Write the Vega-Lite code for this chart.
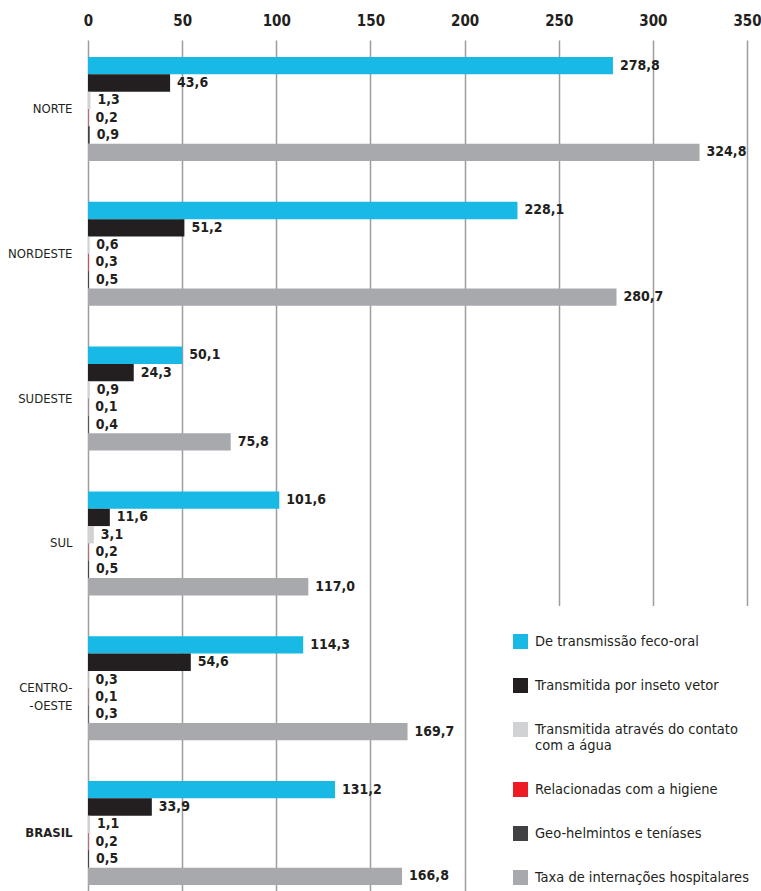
{
  "$schema": "https://vega.github.io/schema/vega-lite/v6.json",
  "width": 659,
  "height": 851,
  "autosize": {"type": "none"},
  "padding": {"left": 88, "top": 40, "right": 14, "bottom": 0},
  "background": "white",
  "config": {
    "locale": {"number": {"decimal": ",", "thousands": ".", "grouping": [3], "currency": ["R$", ""]}},
    "font": "DejaVu Sans Condensed, Roboto",
    "view": {"stroke": null}
  },
  "data": {
    "values": [
      {"regiao": "NORTE", "serie": "De transmissão feco-oral", "valor": 278.8},
      {"regiao": "NORTE", "serie": "Transmitida por inseto vetor", "valor": 43.6},
      {"regiao": "NORTE", "serie": "Transmitida através do contato com a água", "valor": 1.3},
      {"regiao": "NORTE", "serie": "Relacionadas com a higiene", "valor": 0.2},
      {"regiao": "NORTE", "serie": "Geo-helmintos e teníases", "valor": 0.9},
      {"regiao": "NORTE", "serie": "Taxa de internações hospitalares", "valor": 324.8},
      {"regiao": "NORDESTE", "serie": "De transmissão feco-oral", "valor": 228.1},
      {"regiao": "NORDESTE", "serie": "Transmitida por inseto vetor", "valor": 51.2},
      {"regiao": "NORDESTE", "serie": "Transmitida através do contato com a água", "valor": 0.6},
      {"regiao": "NORDESTE", "serie": "Relacionadas com a higiene", "valor": 0.3},
      {"regiao": "NORDESTE", "serie": "Geo-helmintos e teníases", "valor": 0.5},
      {"regiao": "NORDESTE", "serie": "Taxa de internações hospitalares", "valor": 280.7},
      {"regiao": "SUDESTE", "serie": "De transmissão feco-oral", "valor": 50.1},
      {"regiao": "SUDESTE", "serie": "Transmitida por inseto vetor", "valor": 24.3},
      {"regiao": "SUDESTE", "serie": "Transmitida através do contato com a água", "valor": 0.9},
      {"regiao": "SUDESTE", "serie": "Relacionadas com a higiene", "valor": 0.1},
      {"regiao": "SUDESTE", "serie": "Geo-helmintos e teníases", "valor": 0.4},
      {"regiao": "SUDESTE", "serie": "Taxa de internações hospitalares", "valor": 75.8},
      {"regiao": "SUL", "serie": "De transmissão feco-oral", "valor": 101.6},
      {"regiao": "SUL", "serie": "Transmitida por inseto vetor", "valor": 11.6},
      {"regiao": "SUL", "serie": "Transmitida através do contato com a água", "valor": 3.1},
      {"regiao": "SUL", "serie": "Relacionadas com a higiene", "valor": 0.2},
      {"regiao": "SUL", "serie": "Geo-helmintos e teníases", "valor": 0.5},
      {"regiao": "SUL", "serie": "Taxa de internações hospitalares", "valor": 117.0},
      {"regiao": "CENTRO-OESTE", "serie": "De transmissão feco-oral", "valor": 114.3},
      {"regiao": "CENTRO-OESTE", "serie": "Transmitida por inseto vetor", "valor": 54.6},
      {"regiao": "CENTRO-OESTE", "serie": "Transmitida através do contato com a água", "valor": 0.3},
      {"regiao": "CENTRO-OESTE", "serie": "Relacionadas com a higiene", "valor": 0.1},
      {"regiao": "CENTRO-OESTE", "serie": "Geo-helmintos e teníases", "valor": 0.3},
      {"regiao": "CENTRO-OESTE", "serie": "Taxa de internações hospitalares", "valor": 169.7},
      {"regiao": "BRASIL", "serie": "De transmissão feco-oral", "valor": 131.2},
      {"regiao": "BRASIL", "serie": "Transmitida por inseto vetor", "valor": 33.9},
      {"regiao": "BRASIL", "serie": "Transmitida através do contato com a água", "valor": 1.1},
      {"regiao": "BRASIL", "serie": "Relacionadas com a higiene", "valor": 0.2},
      {"regiao": "BRASIL", "serie": "Geo-helmintos e teníases", "valor": 0.5},
      {"regiao": "BRASIL", "serie": "Taxa de internações hospitalares", "valor": 166.8}
    ]
  },
  "encoding": {
    "y": {
      "field": "regiao",
      "type": "nominal",
      "sort": ["NORTE", "NORDESTE", "SUDESTE", "SUL", "CENTRO-OESTE", "BRASIL"],
      "scale": {"paddingInner": 0.2818, "paddingOuter": 0.0794, "align": 0.74},
      "axis": {
        "title": null,
        "domain": false,
        "ticks": false,
        "labelPadding": 16,
        "labelFontSize": 13,
        "labelColor": "#231f20",
        "labelExpr": "datum.value == 'CENTRO-OESTE' ? ['CENTRO-', '-OESTE'] : datum.value",
        "labelFontWeight": {"condition": {"test": "datum.value == 'BRASIL'", "value": "bold"}, "value": "normal"},
        "labelLineHeight": 18
      }
    },
    "yOffset": {
      "field": "serie",
      "type": "nominal",
      "sort": ["De transmissão feco-oral", "Transmitida por inseto vetor", "Transmitida através do contato com a água", "Relacionadas com a higiene", "Geo-helmintos e teníases", "Taxa de internações hospitalares"],
      "scale": {"paddingInner": 0, "paddingOuter": 0}
    },
    "x": {
      "field": "valor",
      "type": "quantitative",
      "scale": {"domain": [0, 350], "nice": false},
      "axis": {
        "orient": "top",
        "title": null,
        "values": [0, 50, 100, 150, 200, 250, 300, 350],
        "domain": false,
        "ticks": false,
        "grid": true,
        "gridColor": "#9d9d9d",
        "gridWidth": 1.5,
        "labelPadding": 12,
        "labelFontSize": 15,
        "labelFontWeight": "bold",
        "labelColor": "#231f20",
        "labelFlush": false,
        "format": "d"
      }
    }
  },
  "layer": [
    {
      "mark": {"type": "bar"},
      "encoding": {
        "color": {
          "field": "serie",
          "type": "nominal",
          "scale": {
            "domain": ["De transmissão feco-oral", "Transmitida por inseto vetor", "Transmitida através do contato com a água", "Relacionadas com a higiene", "Geo-helmintos e teníases", "Taxa de internações hospitalares"],
            "range": ["#19b9e6", "#231f20", "#d1d2d4", "#ed1c24", "#414042", "#a7a9ac"]
          },
          "legend": {
            "orient": "none",
            "legendX": 397,
            "legendY": 566,
            "padding": 28,
            "fillColor": "white",
            "strokeColor": null,
            "title": null,
            "symbolType": "square",
            "symbolSize": 225,
            "symbolStrokeWidth": 0,
            "labelFontSize": 14.5,
            "labelColor": "#231f20",
            "labelOffset": 7,
            "labelLimit": 300,
            "rowPadding": 28,
            "labelExpr": "datum.label == 'Transmitida através do contato com a água' ? ['Transmitida através do contato', 'com a água'] : datum.label"
          }
        }
      }
    },
    {
      "mark": {"type": "text", "align": "left", "baseline": "middle", "dx": 7, "fontSize": 14, "fontWeight": "bold", "color": "#231f20"},
      "encoding": {
        "text": {"field": "valor", "type": "quantitative", "format": ".1f"}
      }
    }
  ]
}
